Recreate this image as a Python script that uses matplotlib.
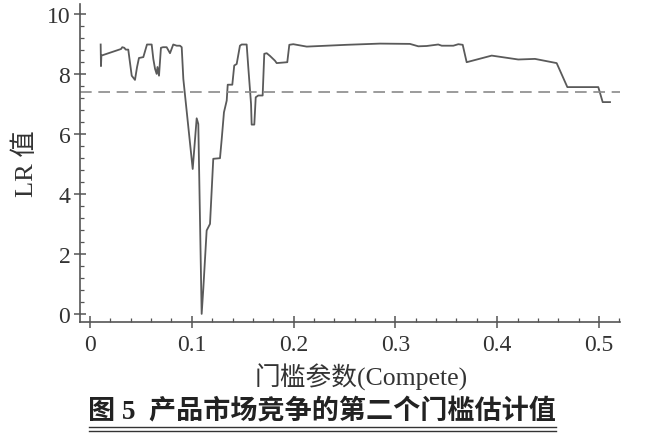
import numpy as np
import matplotlib
matplotlib.use('Agg')
import matplotlib.pyplot as plt
from matplotlib.lines import Line2D
from matplotlib.ticker import MultipleLocator

plt.rcParams['font.family'] = ['Liberation Serif', 'Noto Sans CJK SC']

# threshold parameter (Compete) and LR statistic
compete = [0.0105, 0.0108, 0.0112, 0.0305, 0.0317, 0.0337, 0.0351, 0.0376, 0.0410, 0.0442,
           0.0462, 0.0481, 0.0524, 0.0560, 0.0606, 0.0622, 0.0639, 0.0655, 0.0663, 0.0678,
           0.0697, 0.0717, 0.0753, 0.0786, 0.0818, 0.0852, 0.0884, 0.0901, 0.0917, 0.1009,
           0.1048, 0.1064, 0.1097, 0.1113, 0.1146, 0.1179, 0.1211, 0.1277, 0.1294, 0.1316,
           0.1343, 0.1353, 0.1398, 0.1417, 0.1441, 0.1473, 0.1490, 0.1539, 0.1555, 0.1582,
           0.1588, 0.1614, 0.1628, 0.1653, 0.1696, 0.1712, 0.1736, 0.1768, 0.1817, 0.1834,
           0.1938, 0.1958, 0.1997, 0.2129, 0.2522, 0.2849, 0.3143, 0.3225, 0.3307, 0.3421,
           0.3455, 0.3569, 0.3618, 0.3661, 0.3700, 0.3946, 0.4207, 0.4371, 0.4584, 0.4689,
           0.4993, 0.5036, 0.5108]
lr = [8.98, 8.26, 8.61, 8.83, 8.89, 8.87, 8.81, 8.81, 7.94, 7.80,
      8.22, 8.53, 8.56, 8.98, 8.98, 8.50, 8.17, 8.00, 8.23, 7.94,
      8.87, 8.89, 8.89, 8.69, 8.98, 8.94, 8.94, 8.89, 7.83, 4.83,
      6.52, 6.33, 0.00, 0.83, 2.78, 3.00, 5.17, 5.19, 5.83, 6.72,
      7.11, 7.64, 7.64, 8.28, 8.33, 8.94, 8.98, 8.98, 8.22, 7.00,
      6.31, 6.31, 7.22, 7.28, 7.28, 8.67, 8.69, 8.60, 8.44, 8.36,
      8.39, 8.97, 8.99, 8.91, 8.97, 9.01, 9.00, 8.92, 8.93, 8.98,
      8.94, 8.94, 8.99, 8.97, 8.39, 8.61, 8.48, 8.50, 8.36, 7.56,
      7.56, 7.06, 7.06]
critical = 7.38  # 95% critical value

fig = plt.figure(figsize=(6.59, 4.35), dpi=100)
ax = fig.add_axes([0.1214, 0.2575, 0.8194, 0.731])

ax.plot(compete, lr, color='#5a5a5a', lw=1.3)
ax.axhline(critical, color='#8a8a8a', lw=1.2, ls=(0, (7, 4)))

ax.set_xlim(-0.0098, 0.5206)
ax.set_ylim(-0.27, 10.33)
ax.xaxis.set_major_locator(MultipleLocator(0.1))
ax.xaxis.set_minor_locator(MultipleLocator(0.02))
ax.yaxis.set_major_locator(MultipleLocator(2))
ax.yaxis.set_minor_locator(MultipleLocator(0.4))
ax.set_xticks([0, 0.1, 0.2, 0.3, 0.4, 0.5])
ax.set_xticklabels(['0', '0.1', '0.2', '0.3', '0.4', '0.5'])

for s in ['top', 'right']:
    ax.spines[s].set_visible(False)
for s in ['left', 'bottom']:
    ax.spines[s].set_color('#555555')
    ax.spines[s].set_linewidth(1.2)

ax.tick_params(which='major', direction='inout', length=8, width=1.1,
               color='#555555', labelsize=17, labelcolor='#333333')
ax.tick_params(which='minor', direction='in', length=3, width=0.9, color='#555555')
ax.tick_params(axis='x', pad=5)
ax.tick_params(axis='y', pad=3)

ax.set_ylabel('LR 值', fontsize=19, color='#333333', labelpad=6)
ax.set_xlabel('门槛参数(Compete)', fontsize=18.5, color='#333333', labelpad=5)
ax.xaxis.label.set_x(0.52)

fig.text(0.489, 0.053, '图 5  产品市场竞争的第二个门槛估计值', fontsize=19.5,
         fontweight='bold', ha='center', va='center', color='#222222')
fig.add_artist(Line2D([0.135, 0.843], [0.017, 0.017], color='#333333', lw=1.0))
fig.add_artist(Line2D([0.135, 0.843], [0.008, 0.008], color='#333333', lw=1.0))

fig.savefig('out.png', dpi=100)
